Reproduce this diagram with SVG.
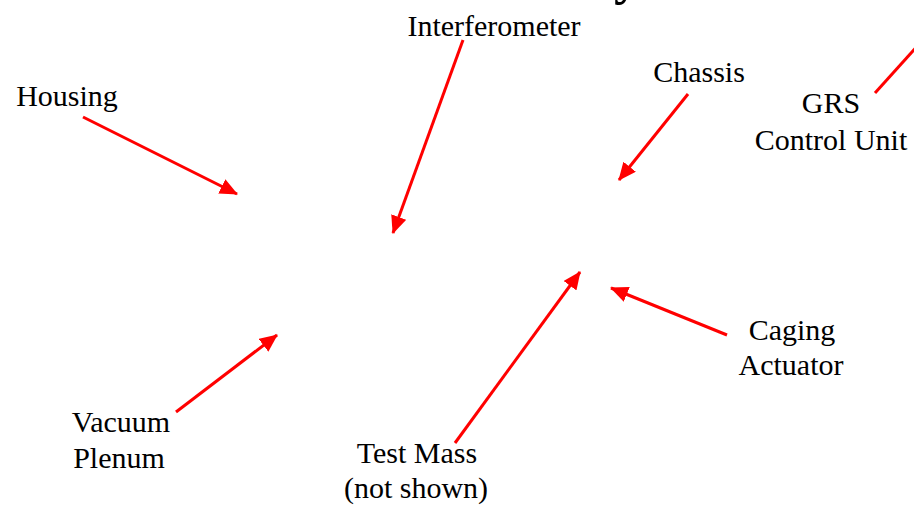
<svg xmlns="http://www.w3.org/2000/svg" width="914" height="505" viewBox="0 0 914 505">
<style>
text{font-family:"Liberation Serif","Times New Roman",serif;font-size:30px;fill:#000;text-anchor:middle}
.t{font-weight:bold;font-size:52px;text-anchor:start}
.c line{stroke:#ff0000;stroke-width:3}
</style>
<defs>
<marker id="ah" markerUnits="userSpaceOnUse" markerWidth="18" markerHeight="16" refX="17" refY="8" orient="auto">
<path d="M0,0 L18,8 L0,16 Z" fill="#ff0000"/>
</marker>
</defs>
<rect width="914" height="505" fill="#fff"/>
<g id="title"><text class="t" x="614" y="-6">y</text></g>
<g class="c" id="connectors">
<line x1="83" y1="117" x2="237" y2="194" marker-end="url(#ah)"/>
<line x1="463" y1="40" x2="393" y2="233" marker-end="url(#ah)"/>
<line x1="688" y1="94" x2="619" y2="180" marker-end="url(#ah)"/>
<line x1="875" y1="93" x2="920" y2="43"/>
<line x1="727" y1="335" x2="611" y2="288" marker-end="url(#ah)"/>
<line x1="455" y1="443" x2="580" y2="272" marker-end="url(#ah)"/>
<line x1="176" y1="412" x2="277" y2="335" marker-end="url(#ah)"/>
</g>
<g id="interferometer"><text x="494" y="36">Interferometer</text></g>
<g id="housing"><text x="67" y="106">Housing</text></g>
<g id="chassis"><text x="699" y="82">Chassis</text></g>
<g id="grs"><text x="831" y="113">GRS</text><text x="831" y="150">Control Unit</text></g>
<g id="caging"><text x="792" y="340">Caging</text><text x="791" y="375">Actuator</text></g>
<g id="vacuum"><text x="121" y="432">Vacuum</text><text x="119" y="468">Plenum</text></g>
<g id="testmass"><text x="417" y="463">Test Mass</text><text x="416" y="498">(not shown)</text></g>
</svg>
